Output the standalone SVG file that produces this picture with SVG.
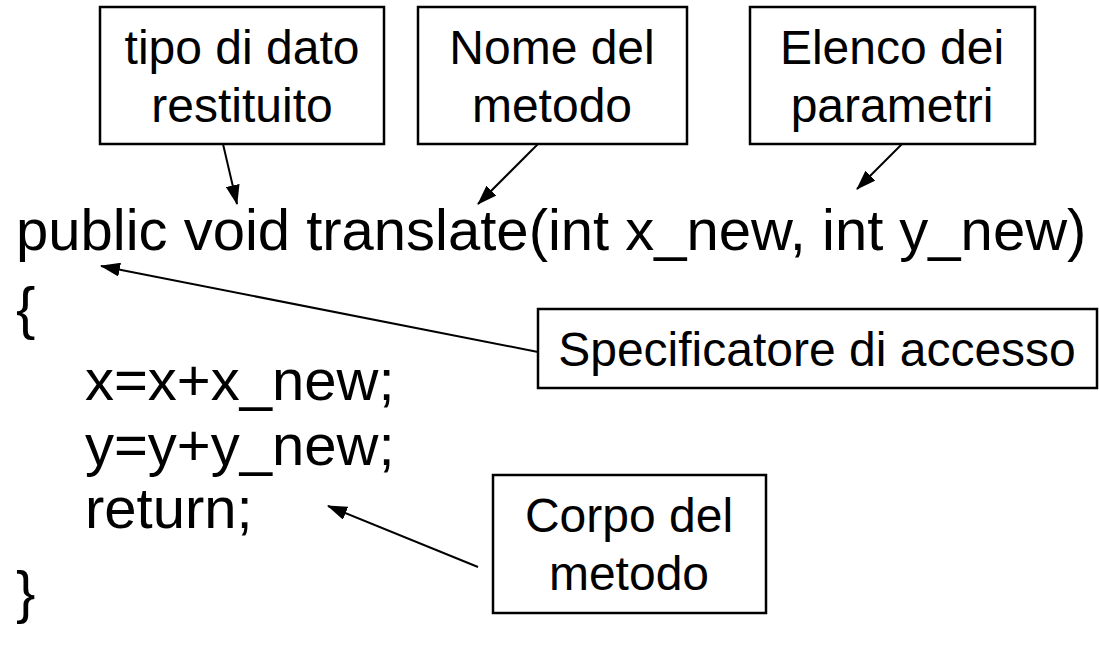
<svg xmlns="http://www.w3.org/2000/svg" width="1099" height="645" viewBox="0 0 1099 645">
<style>
.box{fill:#fff;stroke:#000;stroke-width:2.5}
.lbl{font-family:"Liberation Sans",Arial,sans-serif;font-size:48px;fill:#000;text-anchor:middle}
.code{font-family:"Liberation Sans",Arial,sans-serif;font-size:58px;fill:#000}
.conn{stroke:#000;stroke-width:2;fill:none;marker-end:url(#ah)}
</style>
<defs>
<marker id="ah" markerWidth="20" markerHeight="14" refX="19" refY="7" orient="auto" markerUnits="userSpaceOnUse" viewBox="0 0 20 14">
<path d="M0,0 L20,7 L0,14 Z" fill="#000"/>
</marker>
</defs>
<rect width="1099" height="645" fill="#fff"/>
<g id="code">
<text class="code" x="16" y="250">public void translate(int x_new, int y_new)</text>
<text class="code" x="16" y="328">{</text>
<text class="code" x="85" y="400">x=x+x_new;</text>
<text class="code" x="85" y="465">y=y+y_new;</text>
<text class="code" x="85" y="528">return;</text>
<text class="code" x="16" y="612">}</text>
</g>
<g id="tipo">
<rect class="box" x="100" y="7" width="284" height="137"/>
<text class="lbl" x="242" y="64">tipo di dato</text>
<text class="lbl" x="242" y="122">restituito</text>
</g>
<g id="nome">
<rect class="box" x="418" y="7" width="269" height="137"/>
<text class="lbl" x="552" y="64">Nome del</text>
<text class="lbl" x="552" y="122">metodo</text>
</g>
<g id="elenco">
<rect class="box" x="750" y="7" width="285" height="137"/>
<text class="lbl" x="892" y="64">Elenco dei</text>
<text class="lbl" x="892" y="122">parametri</text>
</g>
<g id="spec">
<rect class="box" x="538" y="309" width="559" height="79"/>
<text class="lbl" x="817" y="366">Specificatore di accesso</text>
</g>
<g id="corpo">
<rect class="box" x="493" y="475" width="273" height="138"/>
<text class="lbl" x="629" y="532">Corpo del</text>
<text class="lbl" x="629" y="590">metodo</text>
</g>
<g id="connectors">
<line class="conn" x1="223" y1="144" x2="237" y2="204"/>
<line class="conn" x1="538" y1="144" x2="478" y2="204"/>
<line class="conn" x1="902" y1="144" x2="857" y2="189"/>
<line class="conn" x1="538" y1="352" x2="101" y2="266"/>
<line class="conn" x1="478" y1="567" x2="328" y2="506"/>
</g>
</svg>
